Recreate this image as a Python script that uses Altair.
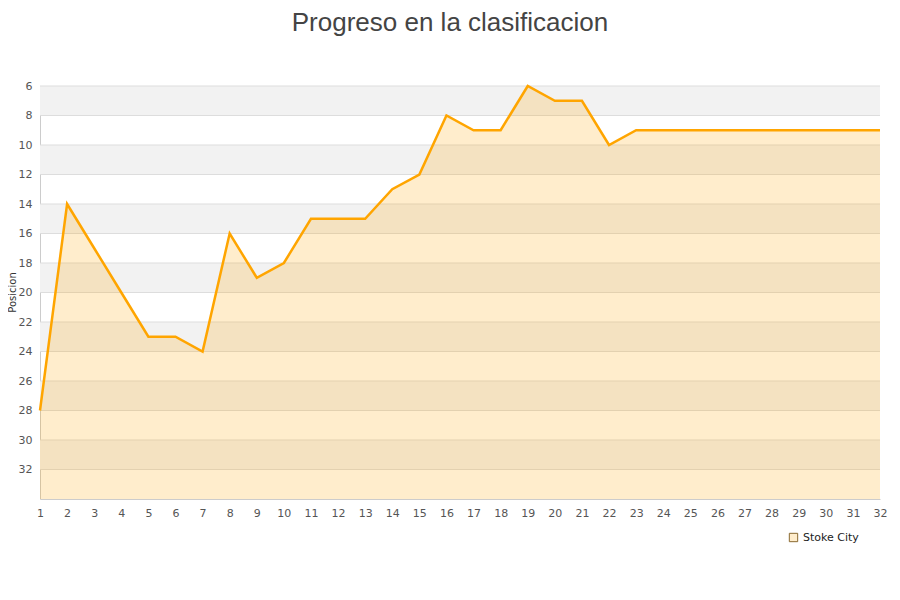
import altair as alt
import pandas as pd

jornadas = list(range(1, 33))
posiciones = [28, 14, 17, 20, 23, 23, 24, 16, 19, 18, 15, 15, 15, 13, 12, 8,
              9, 9, 6, 7, 7, 10, 9, 9, 9, 9, 9, 9, 9, 9, 9, 9]
equipo = "Stoke City"
band_starts = [6, 10, 14, 18, 22, 26, 30]
grid_values = [6, 8, 10, 12, 14, 16, 18, 20, 22, 24, 26, 28, 30, 32]
y_ticks = [6, 8, 10, 12, 14, 16, 18, 20, 22, 24, 26, 28, 30, 32]

df = pd.DataFrame({"j": jornadas, "p": posiciones, "team": [equipo] * len(jornadas)})
bands = pd.DataFrame({"y0": band_starts, "y1": [b + 2 for b in band_starts]})
grid = pd.DataFrame({"g": grid_values})

yscale = alt.Scale(domain=[6, 34], reverse=True, nice=False, zero=False)
xscale = alt.Scale(domain=[1, 32], nice=False, zero=False)

yaxis = alt.Axis(values=y_ticks, grid=False, ticks=False, domain=True,
                 domainColor="#CCCCCC", labelColor="#555555", labelOverlap=False,
                 labelFont="DejaVu Sans", labelFontSize=11, labelPadding=8,
                 titleFont="DejaVu Sans", titleFontSize=10, titleFontWeight="normal",
                 titleColor="#333333", titleX=-23, titleY=206,
                 titleAngle=270, titleBaseline="bottom", titleAlign="center")
xaxis = alt.Axis(values=jornadas, grid=False, ticks=False, domainColor="#CCCCCC",
                 labelColor="#555555", labelFont="DejaVu Sans", labelFontSize=11,
                 labelPadding=8, labelFlush=False, labelOverlap=False, format="d")

band_layer = alt.Chart(bands).mark_rect(color="#F2F2F2").encode(
    y=alt.Y("y0:Q", scale=yscale, title="Posicion", axis=yaxis),
    y2="y1:Q",
    x=alt.value(0),
    x2=alt.value(840),
)

grid_layer = alt.Chart(grid).mark_rule(color="#DDDDDD", strokeWidth=1).encode(
    y=alt.Y("g:Q", scale=yscale, title="Posicion", axis=yaxis),
    x=alt.value(0),
    x2=alt.value(840),
)

area_layer = alt.Chart(df).mark_area(interpolate="linear").encode(
    x=alt.X("j:Q", scale=xscale, title=None, axis=xaxis),
    y=alt.Y("p:Q", scale=yscale, title="Posicion", axis=yaxis),
    y2=alt.datum(34),
    fill=alt.Fill("team:N", scale=alt.Scale(range=["rgba(255,165,0,0.2)"]),
                  legend=alt.Legend(title=None, orient="none", legendX=748, legendY=446,
                                    symbolType="square", symbolSize=70,
                                    symbolStrokeColor="#8a6a30",
                                    symbolStrokeWidth=1,
                                    labelFont="DejaVu Sans", labelFontSize=11,
                                    labelColor="#222222")),
)

line_layer = alt.Chart(df).mark_line(color="#FFA500", strokeWidth=2.5).encode(
    x=alt.X("j:Q", scale=xscale, title=None, axis=xaxis),
    y=alt.Y("p:Q", scale=yscale, title="Posicion", axis=yaxis),
)

chart = alt.layer(band_layer, grid_layer, area_layer, line_layer).properties(
    width=840,
    height=413,
    title=alt.TitleParams("Progreso en la clasificacion", font="Liberation Sans",
                          fontSize=26, fontWeight="normal", color="#444444",
                          anchor="middle", dx=-10, offset=44),
    autosize=alt.AutoSizeParams(type="none"),
    padding={"left": 32, "top": 78, "right": 12, "bottom": 80},
).configure_view(stroke=None)

chart.save("out.html", embed_options={"renderer": "svg", "actions": False})
